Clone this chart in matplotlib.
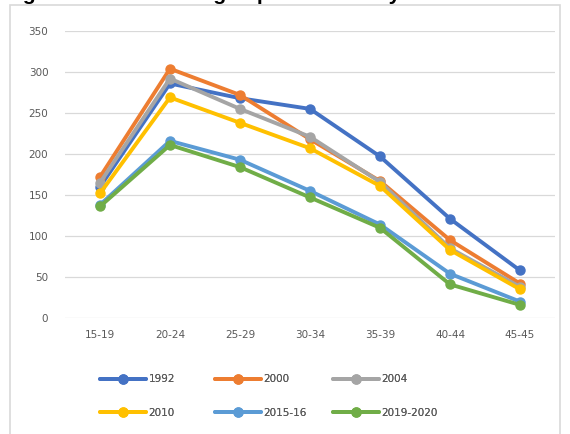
import matplotlib
matplotlib.use("Agg")
import matplotlib.pyplot as plt
from matplotlib.patches import Rectangle

# Age groups on the x axis
age_groups = ["15-19", "20-24", "25-29", "30-34", "35-39", "40-44", "45-45"]

# Age-specific fertility rates per survey round
asfr_1992 = [160, 286, 268, 255, 197, 121, 58]
asfr_2000 = [172, 304, 272, 218, 167, 95, 42]
asfr_2004 = [165, 292, 255, 221, 166, 85, 38]
asfr_2010 = [152, 269, 238, 207, 161, 83, 35]
asfr_2015 = [138, 216, 193, 155, 114, 54, 20]
asfr_2019 = [136, 211, 184, 147, 110, 41, 16]

series_labels = ["1992", "2000", "2004", "2010", "2015-16", "2019-2020"]
series_values = [asfr_1992, asfr_2000, asfr_2004, asfr_2010, asfr_2015, asfr_2019]
series_colors = ["#4472C4", "#ED7D31", "#A5A5A5", "#FFC000", "#5B9BD5", "#70AD47"]

y_ticks = [0, 50, 100, 150, 200, 250, 300, 350]

W, H = 570, 434
fig = plt.figure(figsize=(W / 100, H / 100), dpi=100)
fig.patch.set_facecolor("white")

# Caption line above the chart frame
fig.text(4 / W, 1 + 0.5 / H, "Figure 2: Trends in Age-specific fertility rates",
         fontsize=15.2, fontweight="bold", color="black",
         family="Liberation Sans", ha="left", va="baseline")

# Chart frame
fig.patches.append(Rectangle((10 / W, -0.05), 550 / W, 1.05 - 5 / H,
                             transform=fig.transFigure, fill=False,
                             edgecolor="#D9D9D9", linewidth=1.2))

ax = fig.add_axes([65 / W, (H - 318) / H, 490 / W, 287 / H])
ax.set_facecolor("white")
x = range(len(age_groups))
handles = []
for lab, vals, col in zip(series_labels, series_values, series_colors):
    h, = ax.plot(x, vals, color=col, linewidth=2.8, marker="o",
                 markersize=6.5, label=lab, solid_capstyle="round")
    handles.append(h)

ax.set_xlim(-0.5, len(age_groups) - 0.5)
ax.set_ylim(0, 350)
ax.set_yticks(y_ticks)
ax.set_xticks(list(x))
ax.set_xticklabels(age_groups)
ax.grid(axis="y", color="#D9D9D9", linewidth=0.9)
ax.set_axisbelow(True)
for s in ax.spines.values():
    s.set_visible(False)
ax.tick_params(axis="both", length=0, labelsize=7.5, labelcolor="#595959")
ax.tick_params(axis="y", pad=12)
ax.tick_params(axis="x", pad=9)

# Legend: two rows of three, one legend block per column
col_x = [100, 215, 333]
for c, left in enumerate(col_x):
    idx = [c, c + 3]
    leg = fig.legend([handles[i] for i in idx], [series_labels[i] for i in idx],
                     ncol=1, loc="center left",
                     bbox_to_anchor=(left / W, 1 - 396 / H),
                     frameon=False, fontsize=7.5, labelcolor="#595959",
                     handlelength=4.4, handletextpad=0.25,
                     labelspacing=2.25, borderpad=0.0, borderaxespad=0.0)
    fig.add_artist(leg)

fig.savefig("out.png", dpi=100, facecolor="white")
